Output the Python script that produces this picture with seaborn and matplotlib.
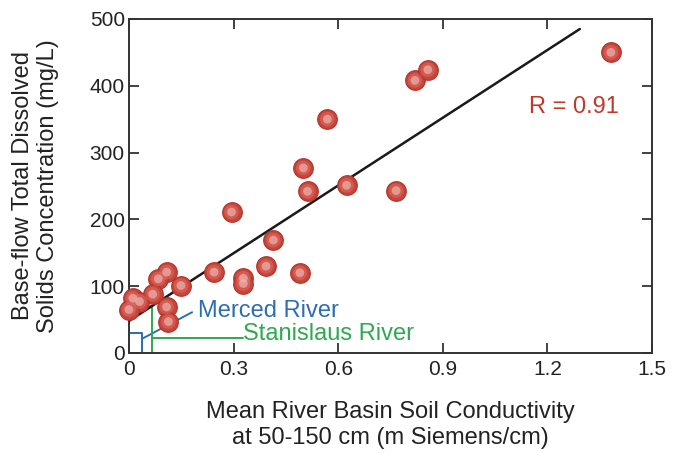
import numpy as np
import pandas as pd
import matplotlib
matplotlib.use('Agg')
import matplotlib.pyplot as plt
import seaborn as sns

# conductivity (mS/cm) vs base-flow TDS (mg/L)
conductivity = [1.382, 0.820, 0.857, 0.569, 0.500, 0.512, 0.624, 0.766,
                0.294, 0.414, 0.393, 0.490, 0.244, 0.328, 0.328, 0.108,
                0.084, 0.149, 0.068, 0.011, 0.030, 0.000, 0.108, 0.113]
tds = [450, 408, 424, 350, 277, 242, 251, 243,
       211, 169, 130, 120, 121, 112, 104, 121,
       111, 101, 88, 82, 77, 65, 69, 47]

fit_x = [0.0, 1.293]
fit_y = [48, 485]

merced_x = [0.0, 0.036, 0.036]
merced_y = [30, 30, 0]
merced_lead_x = [0.040, 0.181]
merced_lead_y = [22, 61]
stan_x = [0.040, 0.067, 0.067]
stan_y = [70, 70, 0]
stan_lead_x = [0.067, 0.327]
stan_lead_y = [22, 22]

xticks = [0, 0.3, 0.6, 0.9, 1.2, 1.5]
yticks = [0, 100, 200, 300, 400, 500]

df = pd.DataFrame({'cond': conductivity, 'tds': tds})

sns.set_style('ticks')
plt.rcParams['font.family'] = ['Liberation Sans', 'DejaVu Sans']

red = '#c0392b'
blue = '#2d6db4'
green = '#2fa84f'

fig = plt.figure(figsize=(6.74, 4.53), dpi=100)
ax = fig.add_axes([0.1914, 0.2208, 0.7760, 0.7373])

sns.lineplot(x=fit_x, y=fit_y, ax=ax, color='#1a1a1a', linewidth=1.8, zorder=3)
for xs, ys, c in [(merced_x, merced_y, blue), (merced_lead_x, merced_lead_y, blue),
                  (stan_x, stan_y, green), (stan_lead_x, stan_lead_y, green)]:
    sns.lineplot(x=xs, y=ys, ax=ax, color=c, linewidth=1.4, sort=False,
                 estimator=None, zorder=2)

# balls: red body + soft highlight
sns.scatterplot(data=df, x='cond', y='tds', ax=ax, s=200, color='#c8443a',
                edgecolor='#b0342a', linewidth=0.8, zorder=4, clip_on=False)
sns.scatterplot(data=df, x='cond', y='tds', ax=ax, s=110, color='#da6e65',
                edgecolor='none', alpha=0.55, zorder=5, clip_on=False)
sns.scatterplot(data=df, x='cond', y='tds', ax=ax, s=40, color='#eeb3ad',
                edgecolor='none', alpha=0.7, zorder=6, clip_on=False)

ax.text(1.276, 368, 'R = 0.91', color=red, fontsize=17, ha='center', va='center')
ax.text(0.198, 63, 'Merced River', color=blue, fontsize=17, ha='left', va='center')
ax.text(0.327, 29, 'Stanislaus River', color=green, fontsize=17, ha='left', va='center')

ax.set_xlim(0, 1.5)
ax.set_ylim(0, 500)
ax.set_xticks(xticks)
ax.set_xticklabels(['0', '0.3', '0.6', '0.9', '1.2', '1.5'])
ax.set_yticks(yticks)
ax.set_yticklabels([str(v) for v in yticks])
ax.tick_params(axis='both', direction='in', length=7, width=1.3, color='#333333',
               labelsize=15, labelcolor='#222222', top=True, right=True)
ax.tick_params(axis='y', pad=3)
ax.tick_params(axis='x', pad=5)
for sp in ax.spines.values():
    sp.set_linewidth(1.4)
    sp.set_color('#333333')

ax.set_xlabel('Mean River Basin Soil Conductivity\nat 50-150 cm (m Siemens/cm)',
              fontsize=17, color='#222222', labelpad=16, linespacing=1.25)
ax.set_ylabel('Base-flow Total Dissolved\nSolids Concentration (mg/L)',
              fontsize=17, color='#222222', labelpad=22, linespacing=1.2)

fig.savefig('out.png', dpi=100)
